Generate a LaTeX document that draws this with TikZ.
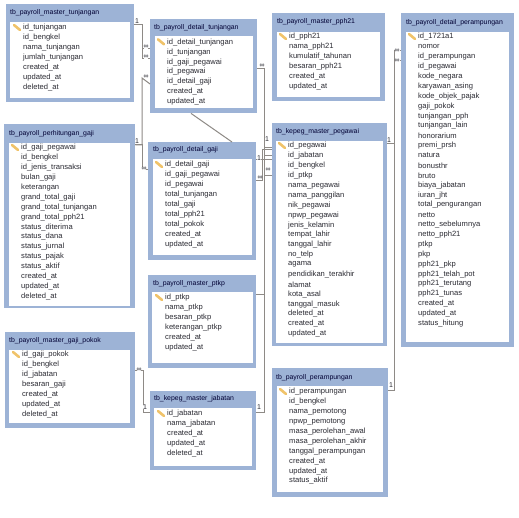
\documentclass[tikz,border=0pt]{standalone}
\usepackage{fontspec}
\setmainfont{Liberation Sans}
\definecolor{band}{HTML}{9DB3D6}
\definecolor{wire}{HTML}{8E8A86}
\definecolor{ink}{HTML}{2B2B33}
\definecolor{keygold}{HTML}{F0C36A}
\tikzset{
  tablebox/.style={fill=band,draw=none,inner sep=0pt,anchor=north west},
  bodybox/.style={fill=white,draw=none,inner sep=0pt,anchor=north west},
  titletext/.style={anchor=west,inner sep=0pt,text=black!80!blue,font=\fontsize{6.9}{8}\selectfont},
  rowtext/.style={anchor=west,inner sep=0pt,text=ink,font=\fontsize{7.6}{8}\selectfont},
  conn/.style={draw=wire,line width=1pt},
  card/.style={inner sep=0pt,text=ink,fill=white,font=\fontsize{7}{7}\selectfont},
  keyicon/.style={draw=keygold,line width=2.6pt,line cap=round}
}
% name, x0,y0,x1,y1, inner x0,y0,x1,y1
\newcommand\tablebox[9]{%
  \pgfmathsetmacro\tw{#4-#2}\pgfmathsetmacro\th{#5-#3}%
  \node[tablebox,minimum width=\tw pt,minimum height=\th pt] (#1) at (#2,#3) {};%
  \pgfmathsetmacro\tw{#8-#6}\pgfmathsetmacro\th{#9-#7}%
  \node[bodybox,minimum width=\tw pt,minimum height=\th pt] (#1body) at (#6,#7) {};%
}
% name, title x,y, first row x,y, title, rows
\newcommand\tabletext[7]{%
  \node[titletext] (#1title) at (#2,#3) {#6};%
  \draw[keyicon] (#4-9,#5-3) -- (#4-3,#5+2);%
  \foreach \rowtxt [count=\i from 0] in {#7} {%
    \pgfmathsetmacro\ry{#5+9.88*\i}%
    \node[rowtext] (#1row\i) at (#4,\ry) {\rowtxt};%
  }%
}
\begin{document}
\begin{tikzpicture}[x=1pt,y=-1pt]
\useasboundingbox (0,0) rectangle (519,518);
\fill[white] (0,0) rectangle (519,518);

\tablebox{mt}{6}{4}{134}{102}{10}{22}{130}{98}
\tabletext{mt}{10}{13}{23}{28}{tb\_payroll\_master\_tunjangan}{id\_tunjangan,id\_bengkel,nama\_tunjangan,jumlah\_tunjangan,created\_at,updated\_at,deleted\_at}

\tablebox{dt}{150}{19}{257}{113}{155}{36}{253}{108}
\tabletext{dt}{154}{28}{167}{42.3}{tb\_payroll\_detail\_tunjangan}{id\_detail\_tunjangan,id\_tunjangan,id\_gaji\_pegawai,id\_pegawai,id\_detail\_gaji,created\_at,updated\_at}

\tablebox{pg}{4}{124}{135}{308}{9}{143}{130}{306}
\tabletext{pg}{9}{134}{21}{148}{tb\_payroll\_perhitungan\_gaji}{id\_gaji\_pegawai,id\_bengkel,id\_jenis\_transaksi,bulan\_gaji,keterangan,grand\_total\_gaji,grand\_total\_tunjangan,grand\_total\_pph21,status\_diterima,status\_dana,status\_jurnal,status\_pajak,status\_aktif,created\_at,updated\_at,deleted\_at}

\tablebox{gp}{5}{332}{135}{428}{9}{350}{130}{423}
\tabletext{gp}{9}{341}{22}{355}{tb\_payroll\_master\_gaji\_pokok}{id\_gaji\_pokok,id\_bengkel,id\_jabatan,besaran\_gaji,created\_at,updated\_at,deleted\_at}

\tablebox{dg}{148}{142}{256}{260}{153}{159}{252}{255}
\tabletext{dg}{153}{150}{165}{165}{tb\_payroll\_detail\_gaji}{id\_detail\_gaji,id\_gaji\_pegawai,id\_pegawai,total\_tunjangan,total\_gaji,total\_pph21,total\_pokok,created\_at,updated\_at}

\tablebox{pk}{148}{275}{256}{368}{152}{292}{253}{363}
\tabletext{pk}{153}{284}{165}{298}{tb\_payroll\_master\_ptkp}{id\_ptkp,nama\_ptkp,besaran\_ptkp,keterangan\_ptkp,created\_at,updated\_at}

\tablebox{jb}{150}{391}{256}{470}{154}{408}{252}{466}
\tabletext{jb}{154}{399}{167}{414}{tb\_kepeg\_master\_jabatan}{id\_jabatan,nama\_jabatan,created\_at,updated\_at,deleted\_at}

\tablebox{ph}{272}{13}{385}{101}{277}{32}{380}{97}
\tabletext{ph}{277}{22}{289}{37}{tb\_payroll\_master\_pph21}{id\_pph21,nama\_pph21,kumulatif\_tahunan,besaran\_pph21,created\_at,updated\_at}

\tablebox{pw}{272}{123}{387}{346}{276}{141}{383}{343}
\tabletext{pw}{276}{132}{288}{146}{tb\_kepeg\_master\_pegawai}{id\_pegawai,id\_jabatan,id\_bengkel,id\_ptkp,nama\_pegawai,nama\_panggilan,nik\_pegawai,npwp\_pegawai,jenis\_kelamin,tempat\_lahir,tanggal\_lahir,no\_telp,agama,pendidikan\_terakhir,alamat,kota\_asal,tanggal\_masuk,deleted\_at,created\_at,updated\_at}

\tablebox{pr}{272}{368}{388}{497}{277}{386}{383}{492}
\tabletext{pr}{276}{378}{289}{392}{tb\_payroll\_perampungan}{id\_perampungan,id\_bengkel,nama\_pemotong,npwp\_pemotong,masa\_perolehan\_awal,masa\_perolehan\_akhir,tanggal\_perampungan,created\_at,updated\_at,status\_aktif}

\tablebox{dp}{401}{13}{514}{347}{406}{32}{509}{342}
\tabletext{dp}{406}{23}{418}{37}{tb\_payroll\_detail\_perampungan}{id\_1721a1,nomor,id\_perampungan,id\_pegawai,kode\_negara,karyawan\_asing,kode\_objek\_pajak,gaji\_pokok,tunjangan\_pph,tunjangan\_lain,honorarium,premi\_prsh,natura,bonusthr,bruto,biaya\_jabatan,iuran\_jht,total\_pengurangan,netto,netto\_sebelumnya,netto\_pph21,ptkp,pkp,pph21\_pkp,pph21\_telah\_pot,pph21\_terutang,pph21\_tunas,created\_at,updated\_at,status\_hitung}

% connectors
\draw[conn] (mt.east |- 0,25) -- (142,25) -- (142,49) -- (dt.west |- 0,49);
\draw[conn] (mt.east |- 0,25) -- (142,25) -- (142,59) -- (dt.west |- 0,59);
\draw[conn] (pg.east |- 0,145) -- (142,145) -- (142,78) -- (dt.west |- 0,84);
\draw[conn] (pg.east |- 0,145) -- (142,145) -- (142,170) -- (dg.west |- 0,170);
\draw[conn] (dt.south west) ++(41,0) -- ([xshift=84pt]dg.north west);
\draw[conn] (dt.east |- 0,69) -- (264,69) -- (264,160) -- (pw.west |- 0,160);
\draw[conn] (dg.east |- 0,160) -- (264,160) -- (264,148) -- (pw.west |- 0,148);
\draw[conn] (dg.east |- 0,181) -- (262,181) -- (262,150) -- (pw.west |- 0,150);
\draw[conn] (pk.east |- 0,295) -- (264,295) -- (264,176) -- (pw.west |- 0,176);
\draw[conn] (jb.east |- 0,412) -- (264,412) -- (264,156) -- (pw.west |- 0,156);
\draw[conn] (jb.west |- 0,412) -- (143,412) -- (143,370) -- (gp.east |- 0,370);
\draw[conn] (pw.east |- 0,144) -- (394,144) -- (394,61) -- (dp.west |- 0,61);
\draw[conn] (pr.east |- 0,390) -- (394,390) -- (394,51) -- (dp.west |- 0,51);

% cardinalities
\node[card] (c1) at (137,21) {1};
\node[card] (c2) at (146,47) {∞};
\node[card] (c3) at (146,57) {∞};
\node[card] (c4) at (146,77) {∞};
\node[card] (c5) at (137,141) {1};
\node[card] (c6) at (144,169) {∞};
\node[card] (c7) at (262,66) {∞};
\node[card] (c8) at (259,158) {1};
\node[card] (c9) at (260,178) {∞};
\node[card] (c10) at (267,139) {1};
\node[card] (c11) at (268,170) {∞};
\node[card] (c12) at (139,370) {∞};
\node[card] (c13) at (145,407) {1};
\node[card] (c14) at (259,407) {1};
\node[card] (c15) at (389,140) {1};
\node[card] (c16) at (397,51) {∞};
\node[card] (c17) at (397,61) {∞};
\node[card] (c18) at (391,385) {1};
\end{tikzpicture}
\end{document}
